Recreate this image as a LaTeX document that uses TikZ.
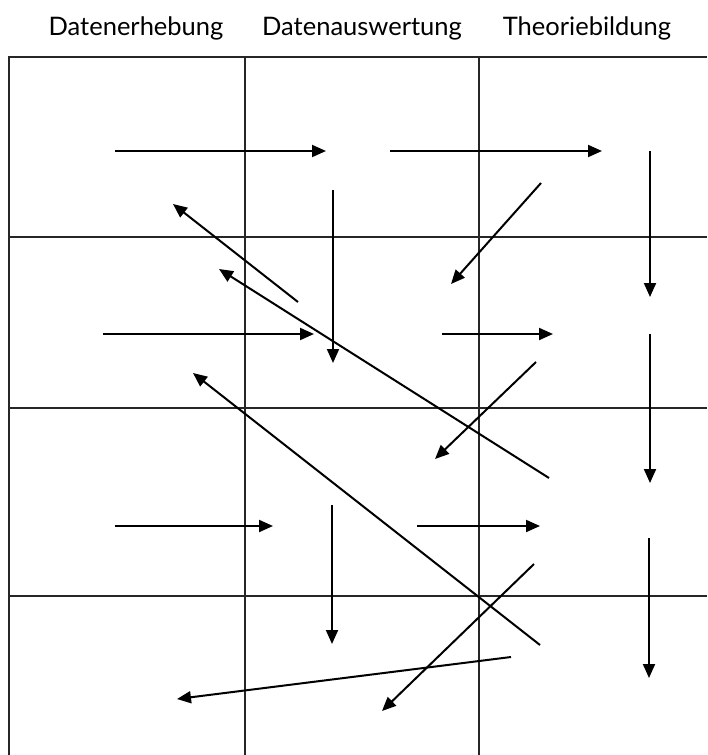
\documentclass[tikz,border=0pt]{standalone}
\usepackage{fontspec}
\setmainfont{Lato}
\usetikzlibrary{arrows.meta}
\begin{document}
\begin{tikzpicture}[x=1pt,y=-1pt,
  gridline/.style={line width=2.1pt,black!85},
  flow/.style={line width=2pt,-{Triangle[length=14pt,width=12pt]}},
  head/.style={anchor=base,font=\fontsize{25.5}{30}\selectfont,inner sep=0pt}]
\useasboundingbox (0,0) rectangle (707,755);
% headers
\node[head] (h1) at (136,35) {Datenerhebung};
\node[head] (h2) at (362,35) {Datenauswertung};
\node[head] (h3) at (587,35) {Theoriebildung};
% grid
\draw[gridline] (707,57) -- (9,57) -- (9,755);
\draw[gridline] (245,57) -- (245,755);
\draw[gridline] (479,57) -- (479,755);
\draw[gridline] (9,237) -- (707,237);
\draw[gridline] (9,408) -- (707,408);
\draw[gridline] (9,596) -- (707,596);
% arrow end points
\coordinate (a1s) at (115,151); \coordinate (a1e) at (326,151);
\coordinate (a2s) at (390,151); \coordinate (a2e) at (602,151);
\coordinate (a3s) at (650,151); \coordinate (a3e) at (650,297);
\coordinate (a4s) at (333,190); \coordinate (a4e) at (333,363);
\coordinate (a5s) at (541,183); \coordinate (a5e) at (451,284);
\coordinate (a6s) at (298,302); \coordinate (a6e) at (173,204);
\coordinate (a7s) at (549,478); \coordinate (a7e) at (219,269);
\coordinate (a8s) at (103,334); \coordinate (a8e) at (314,334);
\coordinate (a9s) at (442,334); \coordinate (a9e) at (553,334);
\coordinate (a10s) at (650,334); \coordinate (a10e) at (650,483);
\coordinate (a11s) at (536,362); \coordinate (a11e) at (435,459);
\coordinate (a12s) at (540,645); \coordinate (a12e) at (193,373);
\coordinate (a13s) at (115,526); \coordinate (a13e) at (273,526);
\coordinate (a14s) at (332,505); \coordinate (a14e) at (332,644);
\coordinate (a15s) at (417,526); \coordinate (a15e) at (540,526);
\coordinate (a16s) at (534,564); \coordinate (a16e) at (382,711);
\coordinate (a17s) at (511,657); \coordinate (a17e) at (177,699);
\coordinate (a18s) at (649,538); \coordinate (a18e) at (649,678);
% arrows
\foreach \i in {1,...,18} {\draw[flow] (a\i s) -- (a\i e);}
\end{tikzpicture}
\end{document}
